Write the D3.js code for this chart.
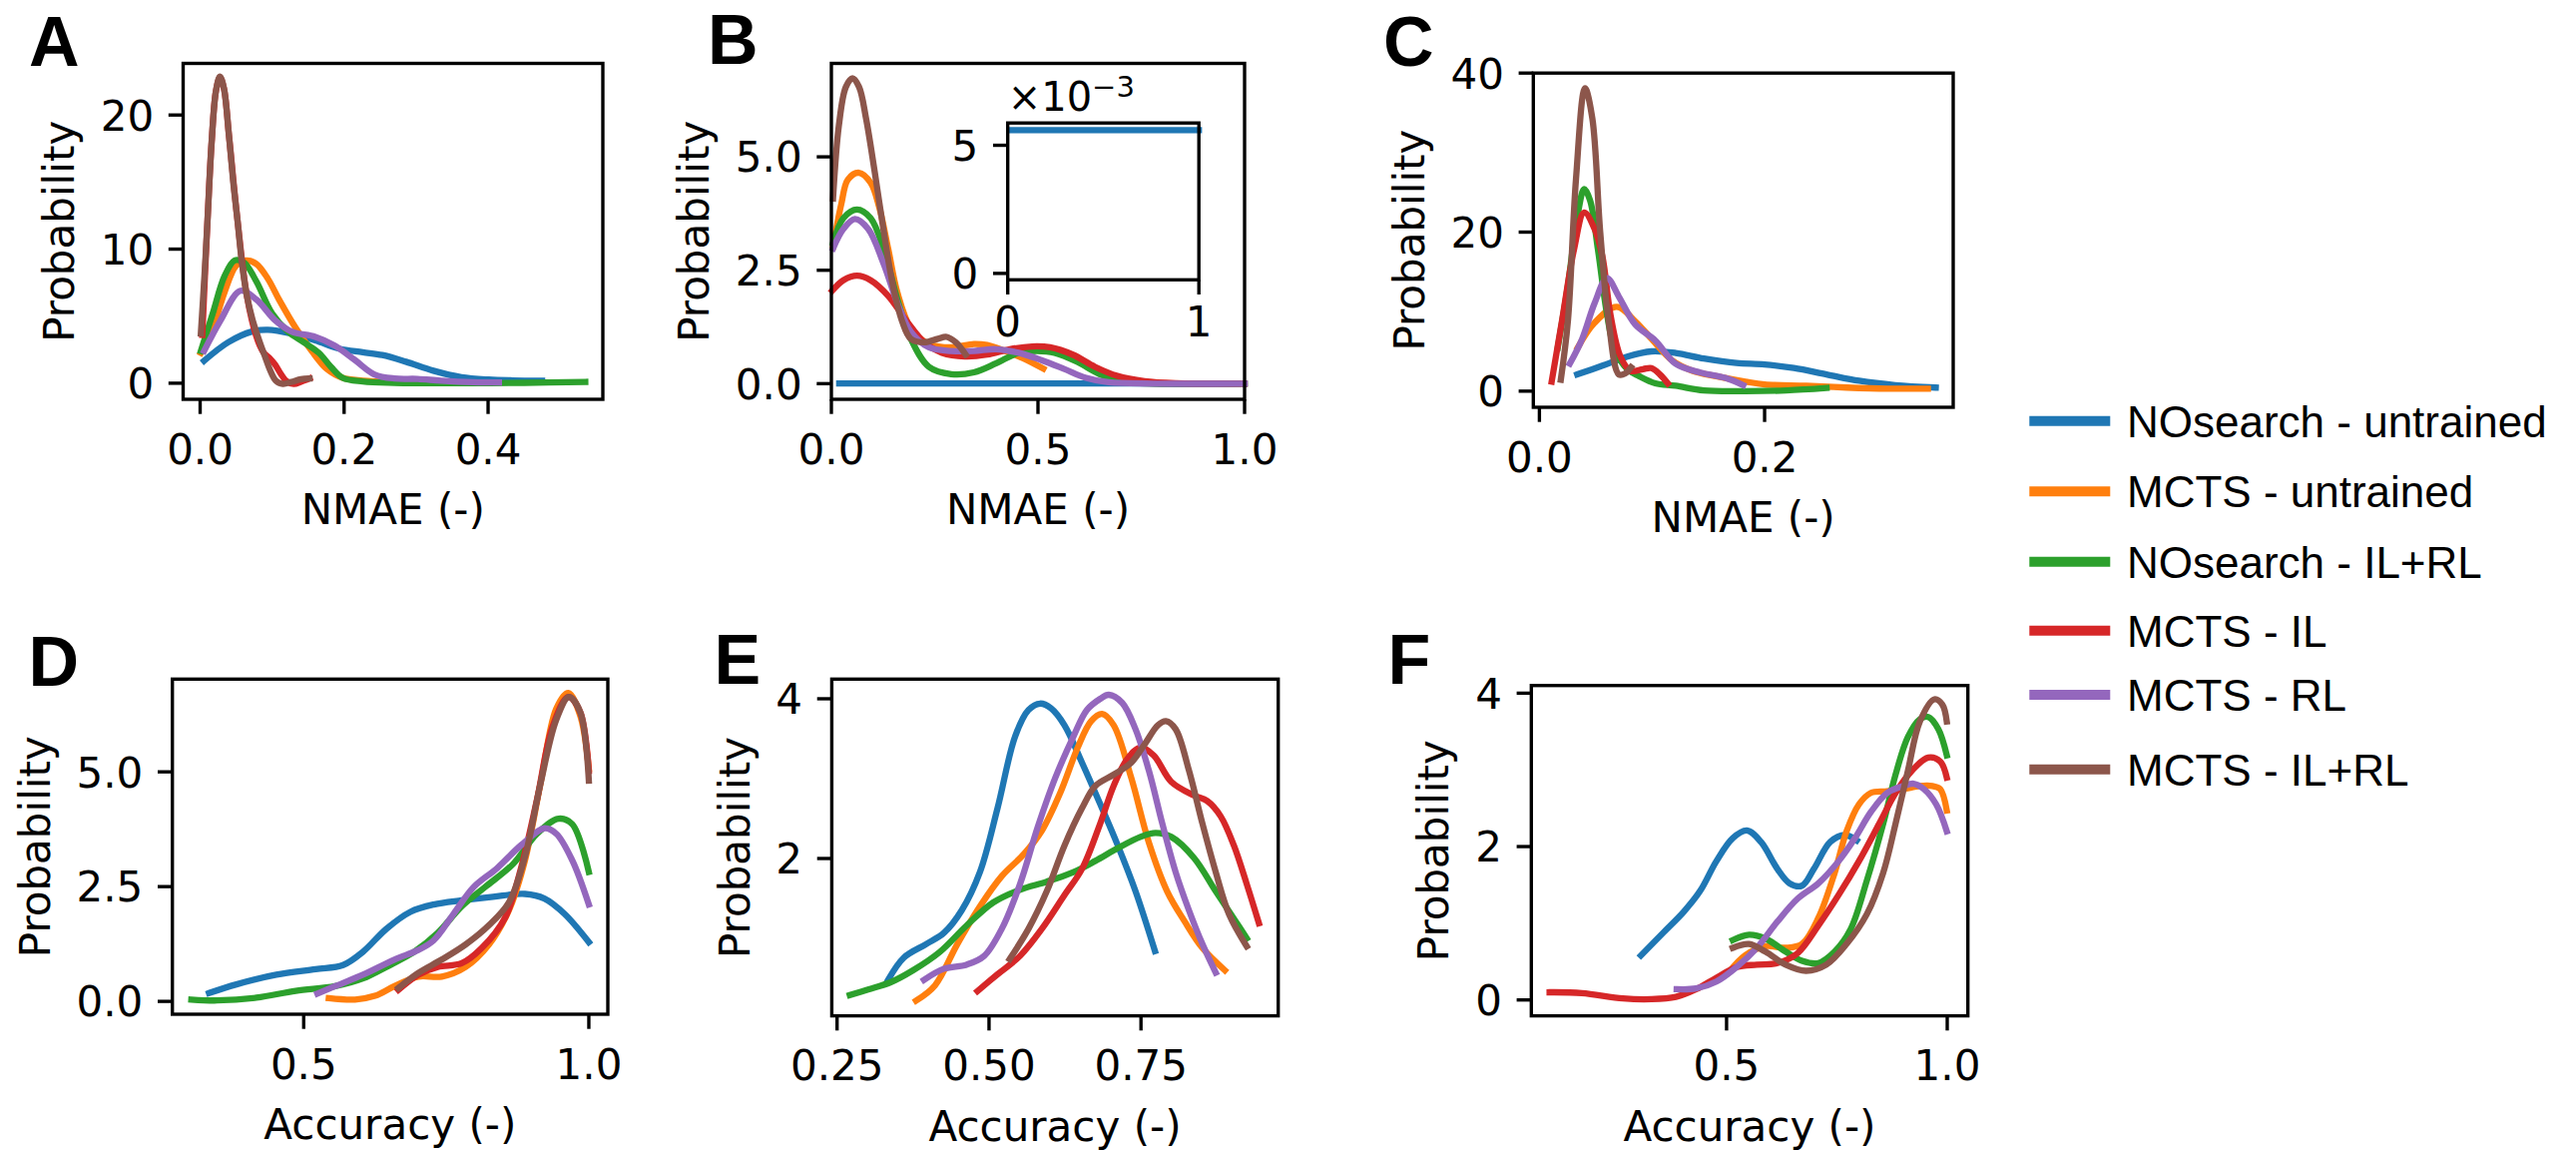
<!DOCTYPE html>
<html>
<head>
<meta charset="utf-8">
<script src="https://cdn.jsdelivr.net/npm/d3@7"></script>
<style>
  html, body { margin: 0; padding: 0; background: #fff; }
  svg { display: block; }
</style>
</head>
<body>
<svg id="fig" width="2581" height="1153"></svg>
<script>
// ---------------------------------------------------------------
// Series (same order and colours in every panel)
// ---------------------------------------------------------------
const seriesNames = [
  "NOsearch - untrained",
  "MCTS - untrained",
  "NOsearch - IL+RL",
  "MCTS - IL",
  "MCTS - RL",
  "MCTS - IL+RL"
];
const seriesColors = ["#1f77b4", "#ff7f0e", "#2ca02c", "#d62728", "#9467bd", "#8c564b"];

const panelLetters = ["A", "B", "C", "D", "E", "F"];
const xLabelNMAE = "NMAE (-)";
const xLabelAcc = "Accuracy (-)";
const yLabelText = "Probability";

// Density estimates, [value, probability] pairs, one list per series
const nmaeA = [
  [[0.0055,1.67],[0.039,3.05],[0.072,3.85],[0.094,3.98],[0.127,3.7],[0.16,3.2],[0.193,2.58],[0.226,2.31],[0.253,2.1],[0.286,1.6],[0.324,0.93],[0.363,0.45],[0.401,0.27],[0.434,0.21],[0.475,0.19]],
  [[0.001,2.26],[0.0175,4.1],[0.034,6.8],[0.05,8.76],[0.064,9.16],[0.078,8.9],[0.094,7.8],[0.11,6.2],[0.133,4.1],[0.155,2.4],[0.176,1.06],[0.198,0.4],[0.226,0.19],[0.27,0.08],[0.29,0.06]],
  [[0.001,2.4],[0.0175,5.2],[0.034,8.0],[0.048,9.16],[0.061,9.0],[0.078,7.6],[0.1,5.2],[0.122,3.85],[0.144,3.05],[0.165,2.26],[0.182,1.2],[0.198,0.4],[0.226,0.13],[0.27,0.03],[0.35,0.0],[0.45,0.03],[0.535,0.1]],
  [[0.003,3.6],[0.0103,12.2],[0.016,18],[0.022,21.8],[0.0275,22.8],[0.033,22],[0.04,18.5],[0.0518,12.2],[0.065,6.5],[0.078,3.5],[0.088,2.3],[0.096,1.9],[0.104,1.4],[0.112,0.7],[0.12,0.15],[0.13,-0.05],[0.14,0.1],[0.152,0.35]],
  [[0.0055,2.4],[0.028,4.65],[0.056,6.9],[0.078,6.24],[0.105,4.65],[0.127,3.85],[0.16,3.45],[0.187,2.8],[0.215,1.73],[0.242,0.66],[0.27,0.35],[0.302,0.32],[0.335,0.19],[0.379,0.08],[0.415,0.05]],
  [[0.001,3.7],[0.006,8],[0.0103,12.2],[0.016,18],[0.022,21.8],[0.0275,22.87],[0.033,22],[0.04,18.5],[0.046,15],[0.0518,12.2],[0.058,9.0],[0.065,6.5],[0.073,4.7],[0.082,3.2],[0.09,2.0],[0.097,1.0],[0.105,0.2],[0.115,-0.05],[0.127,0.1],[0.14,0.3],[0.152,0.35]]
];

const nmaeB = [
  [[0.019,0.00559],[0.25,0.00559],[0.5,0.00559],[0.75,0.00559],[1.0,0.00559]],
  [[0.004,3.02],[0.024,3.96],[0.04,4.5],[0.067,4.65],[0.095,4.43],[0.116,3.88],[0.138,2.95],[0.16,2.0],[0.192,1.23],[0.236,0.875],[0.29,0.8],[0.345,0.875],[0.377,0.85],[0.42,0.72],[0.464,0.56],[0.513,0.33]],
  [[0.004,3.1],[0.029,3.65],[0.062,3.84],[0.095,3.65],[0.127,2.95],[0.16,1.85],[0.192,0.99],[0.236,0.37],[0.29,0.21],[0.345,0.25],[0.399,0.45],[0.453,0.68],[0.497,0.72],[0.54,0.68],[0.595,0.48],[0.649,0.21],[0.703,0.055],[0.78,0.0],[1.0,0.0]],
  [[0.002,2.05],[0.029,2.28],[0.062,2.38],[0.095,2.28],[0.138,1.93],[0.182,1.38],[0.225,0.91],[0.268,0.68],[0.323,0.6],[0.377,0.64],[0.432,0.76],[0.486,0.82],[0.529,0.8],[0.584,0.64],[0.638,0.37],[0.692,0.17],[0.758,0.055],[0.834,0.01],[1.0,0.0]],
  [[0.004,2.98],[0.029,3.41],[0.057,3.63],[0.089,3.41],[0.127,2.63],[0.16,1.77],[0.192,1.15],[0.236,0.8],[0.29,0.72],[0.345,0.72],[0.399,0.76],[0.453,0.68],[0.508,0.52],[0.562,0.33],[0.616,0.13],[0.671,0.03],[0.78,0.0],[1.0,0.0]],
  [[0.004,4.08],[0.018,5.68],[0.035,6.54],[0.051,6.73],[0.067,6.54],[0.084,5.84],[0.105,4.66],[0.127,3.34],[0.149,2.16],[0.171,1.38],[0.192,0.99],[0.225,0.91],[0.258,0.99],[0.279,1.03],[0.301,0.91],[0.325,0.64]]
];

const nmaeC = [
  [[0.0336,2.1],[0.056,3.2],[0.078,4.34],[0.0995,5.0],[0.121,4.8],[0.146,4.1],[0.175,3.53],[0.2,3.36],[0.226,2.9],[0.255,2.1],[0.284,1.3],[0.316,0.76],[0.352,0.45]],
  [[0.034,5.46],[0.049,8.6],[0.0687,10.6],[0.085,8.8],[0.0995,6.58],[0.1175,3.9],[0.136,2.55],[0.157,1.88],[0.183,1.2],[0.2,0.85],[0.237,0.67],[0.273,0.45],[0.309,0.31],[0.345,0.31]],
  [[0.0163,5.46],[0.0253,13.3],[0.034,22.2],[0.0398,25.4],[0.045,24],[0.052,17.8],[0.06,9.7],[0.067,5.2],[0.078,2.77],[0.0886,1.88],[0.103,0.98],[0.121,0.67],[0.146,0.09],[0.183,0.0],[0.219,0.09],[0.255,0.4]],
  [[0.0109,1.2],[0.02,8.8],[0.0307,17.8],[0.0398,22.46],[0.049,20.4],[0.056,16.9],[0.063,9.7],[0.072,4.34],[0.081,2.55],[0.092,2.77],[0.0995,2.9],[0.107,2.1],[0.114,0.98]],
  [[0.027,3.45],[0.038,6.58],[0.049,11.05],[0.06,14.2],[0.0705,11.9],[0.085,8.4],[0.103,6.35],[0.121,3.45],[0.143,2.33],[0.165,1.66],[0.181,0.76]],
  [[0.019,1.43],[0.0253,8.8],[0.0325,26.7],[0.0405,38.1],[0.047,34.3],[0.054,20],[0.0615,8.8],[0.0705,2.1],[0.076,2.2],[0.0814,3.0]]
];

const accD = [
  [[0.334,0.18],[0.382,0.37],[0.452,0.58],[0.521,0.7],[0.569,0.79],[0.604,1.08],[0.645,1.58],[0.687,1.95],[0.728,2.11],[0.777,2.2],[0.832,2.28],[0.888,2.34],[0.922,2.24],[0.957,1.91],[1.0,1.29]],
  [[0.544,0.07],[0.59,0.04],[0.625,0.12],[0.659,0.33],[0.701,0.54],[0.742,0.54],[0.784,0.75],[0.825,1.24],[0.86,1.99],[0.888,3.07],[0.915,4.73],[0.943,6.38],[0.964,6.72],[0.985,6.22],[1.0,5.06]],
  [[0.303,0.04],[0.348,0.02],[0.417,0.08],[0.486,0.23],[0.555,0.33],[0.604,0.5],[0.645,0.75],[0.694,1.08],[0.735,1.49],[0.777,2.07],[0.818,2.49],[0.867,2.99],[0.909,3.65],[0.947,3.98],[0.971,3.86],[1.0,2.82]],
  [[0.666,0.25],[0.701,0.58],[0.735,0.75],[0.777,0.83],[0.812,1.16],[0.853,1.82],[0.881,2.9],[0.909,4.39],[0.936,5.97],[0.964,6.63],[0.985,6.3],[1.0,5.02]],
  [[0.524,0.17],[0.555,0.33],[0.604,0.58],[0.659,0.91],[0.701,1.12],[0.728,1.33],[0.763,1.91],[0.798,2.49],[0.839,2.9],[0.881,3.4],[0.922,3.77],[0.943,3.65],[0.971,3.07],[1.0,2.11]],
  [[0.666,0.29],[0.701,0.62],[0.742,0.91],[0.784,1.24],[0.825,1.66],[0.86,2.16],[0.888,3.15],[0.915,4.73],[0.943,6.14],[0.965,6.63],[0.985,6.3],[1.0,4.81]]
];

const accE = [
  [[0.334,0.48],[0.36,0.76],[0.397,0.93],[0.426,1.07],[0.455,1.35],[0.485,1.83],[0.514,2.63],[0.543,3.53],[0.565,3.86],[0.584,3.94],[0.602,3.88],[0.624,3.67],[0.653,3.2],[0.683,2.68],[0.712,2.16],[0.741,1.59],[0.773,0.84]],
  [[0.38,0.22],[0.411,0.41],[0.448,0.93],[0.485,1.4],[0.521,1.78],[0.558,2.06],[0.587,2.35],[0.617,2.82],[0.646,3.39],[0.668,3.72],[0.686,3.81],[0.705,3.67],[0.734,3.01],[0.763,2.2],[0.793,1.59],[0.822,1.21],[0.851,0.88],[0.888,0.6]],
  [[0.271,0.29],[0.301,0.36],[0.338,0.45],[0.375,0.6],[0.419,0.83],[0.463,1.16],[0.507,1.45],[0.551,1.61],[0.595,1.71],[0.639,1.83],[0.675,1.97],[0.712,2.13],[0.749,2.27],[0.774,2.32],[0.8,2.27],[0.837,2.01],[0.873,1.59],[0.906,1.21],[0.924,1.0]],
  [[0.481,0.34],[0.514,0.55],[0.551,0.78],[0.587,1.12],[0.624,1.54],[0.653,1.87],[0.683,2.44],[0.705,2.91],[0.727,3.24],[0.749,3.39],[0.771,3.29],[0.8,2.96],[0.837,2.79],[0.859,2.72],[0.881,2.53],[0.903,2.16],[0.924,1.68],[0.944,1.19]],
  [[0.393,0.48],[0.426,0.62],[0.463,0.67],[0.492,0.78],[0.521,1.12],[0.551,1.68],[0.58,2.39],[0.609,3.01],[0.639,3.53],[0.661,3.86],[0.683,4.0],[0.697,4.05],[0.719,3.95],[0.741,3.62],[0.763,3.1],[0.785,2.44],[0.807,1.83],[0.829,1.35],[0.851,0.93],[0.873,0.57]],
  [[0.534,0.74],[0.565,1.12],[0.595,1.59],[0.624,2.16],[0.653,2.63],[0.675,2.91],[0.705,3.05],[0.734,3.2],[0.756,3.43],[0.778,3.67],[0.791,3.72],[0.807,3.62],[0.829,3.1],[0.851,2.44],[0.873,1.83],[0.895,1.3],[0.924,0.9]]
];

const accF = [
  [[0.306,0.58],[0.357,0.88],[0.403,1.15],[0.44,1.42],[0.477,1.81],[0.514,2.11],[0.546,2.21],[0.578,2.06],[0.615,1.71],[0.643,1.52],[0.671,1.49],[0.698,1.71],[0.735,2.06],[0.768,2.15],[0.795,2.08]],
  [[0.505,0.36],[0.542,0.58],[0.588,0.7],[0.634,0.68],[0.671,0.73],[0.708,1.07],[0.745,1.66],[0.772,2.2],[0.8,2.55],[0.827,2.7],[0.864,2.72],[0.901,2.75],[0.938,2.79],[0.966,2.79],[0.984,2.75],[0.999,2.47]],
  [[0.514,0.78],[0.551,0.85],[0.588,0.8],[0.634,0.63],[0.671,0.51],[0.708,0.48],[0.745,0.63],[0.781,0.92],[0.818,1.56],[0.855,2.3],[0.883,2.94],[0.911,3.43],[0.938,3.66],[0.957,3.69],[0.98,3.53],[0.999,3.19]],
  [[0.099,0.1],[0.172,0.09],[0.265,0.02],[0.329,0.01],[0.385,0.04],[0.431,0.14],[0.477,0.29],[0.523,0.43],[0.569,0.46],[0.615,0.48],[0.661,0.61],[0.708,0.97],[0.754,1.37],[0.8,1.81],[0.846,2.3],[0.883,2.7],[0.92,2.99],[0.957,3.16],[0.984,3.11],[0.999,2.9]],
  [[0.387,0.14],[0.431,0.15],[0.477,0.24],[0.523,0.43],[0.569,0.68],[0.615,1.02],[0.661,1.32],[0.708,1.52],[0.754,1.81],[0.791,2.11],[0.827,2.45],[0.864,2.7],[0.901,2.79],[0.924,2.82],[0.947,2.75],[0.975,2.55],[0.999,2.2]],
  [[0.514,0.68],[0.551,0.73],[0.588,0.63],[0.634,0.46],[0.68,0.38],[0.726,0.46],[0.772,0.73],[0.818,1.12],[0.855,1.66],[0.883,2.3],[0.911,2.99],[0.938,3.63],[0.971,3.92],[0.989,3.85],[0.999,3.63]]
];

// Tick values
const xTicksA = [0, 0.2, 0.4],   yTicksA = [0, 10, 20];
const xTicksB = [0, 0.5, 1.0],   yTicksB = [0, 2.5, 5.0];
const xTicksC = [0, 0.2],        yTicksC = [0, 20, 40];
const xTicksD = [0.5, 1.0],      yTicksD = [0, 2.5, 5.0];
const xTicksE = [0.25, 0.5, 0.75], yTicksE = [2, 4];
const xTicksF = [0.5, 1.0],      yTicksF = [0, 2, 4];
const xTicksInset = [0, 1],      yTicksInset = [0, 5];
const insetExponent = -3;

// ---------------------------------------------------------------
// Figure geometry and style (matplotlib-like, 4.2 px per point)
// ---------------------------------------------------------------
const W = 2581, H = 1153;
const PT = 4.2;
const FONT = "DejaVu Sans, Verdana, sans-serif";
const FS = 10 * PT;               // 42 px
const LINE_W = 1.5 * PT;          // curve width
const SPINE_W = 0.8 * PT;
const TICK_LEN = 3.5 * PT;
const TICK_PAD = 3.5 * PT;
const LABEL_PAD = 4 * PT;

const svg = d3.select("#fig");
svg.append("rect").attr("width", W).attr("height", H).attr("fill", "#fff");

const panels = [
  { data: nmaeA, box: {l: 183.5, r: 604,   t: 63.5,  b: 400},    xDomain: [-0.0236, 0.5594], yDomain: [-1.2, 23.85],
    xTicks: xTicksA, yTicks: yTicksA, xFmt: ".1f", yFmt: "d",   xLabel: xLabelNMAE, letter: [29, 66] },
  { data: nmaeB, box: {l: 833,   r: 1247,  t: 63.5,  b: 400},    xDomain: [0, 1],            yDomain: [-0.345, 7.06],
    xTicks: xTicksB, yTicks: yTicksB, xFmt: ".1f", yFmt: ".1f", xLabel: xLabelNMAE, letter: [709, 64.3], inset: true },
  { data: nmaeC, box: {l: 1536.3, r: 1957, t: 73.2,  b: 408},    xDomain: [-0.0054, 0.3675], yDomain: [-2.03, 40],
    xTicks: xTicksC, yTicks: yTicksC, xFmt: ".1f", yFmt: "d",   xLabel: xLabelNMAE, letter: [1386, 66] },
  { data: accD,  box: {l: 172.7, r: 609,   t: 680.3, b: 1016},   xDomain: [0.2697, 1.0333],  yDomain: [-0.28, 7.02],
    xTicks: xTicksD, yTicks: yTicksD, xFmt: ".1f", yFmt: ".1f", xLabel: xLabelAcc,  letter: [28.5, 686.7] },
  { data: accE,  box: {l: 833.4, r: 1280.7, t: 680.3, b: 1017.6}, xDomain: [0.2413, 0.9758], yDomain: [0.03, 4.246],
    xTicks: xTicksE, yTicks: yTicksE, xFmt: ".2f", yFmt: "d",   xLabel: xLabelAcc,  letter: [715.5, 684.8] },
  { data: accF,  box: {l: 1534.3, r: 1971.7, t: 686.7, b: 1017.6}, xDomain: [0.0576, 1.0468], yDomain: [-0.207, 4.1],
    xTicks: xTicksF, yTicks: yTicksF, xFmt: ".1f", yFmt: "d",   xLabel: xLabelAcc,  letter: [1390.5, 684.8] }
];

function styleAxis(ax) {
  ax.attr("font-family", FONT).attr("font-size", FS).attr("color", "#000");
  ax.select(".domain").remove();
  ax.selectAll(".tick line").attr("stroke-width", SPINE_W);
}

function drawAxes(g, x, y, box, xTicks, yTicks, xFmt, yFmt) {
  const xa = g.append("g")
    .attr("transform", `translate(0,${box.b})`)
    .call(d3.axisBottom(x).tickValues(xTicks).tickFormat(d3.format(xFmt))
      .tickSize(TICK_LEN).tickSizeOuter(0).offset(0));
  styleAxis(xa);
  xa.selectAll(".tick text").attr("y", TICK_LEN + TICK_PAD + 0.84 * FS).attr("dy", null);

  const ya = g.append("g")
    .attr("transform", `translate(${box.l},0)`)
    .call(d3.axisLeft(y).tickValues(yTicks).tickFormat(d3.format(yFmt))
      .tickSize(TICK_LEN).tickSizeOuter(0).offset(0));
  styleAxis(ya);
  ya.selectAll(".tick text").attr("x", -(TICK_LEN + TICK_PAD)).attr("y", 0.3645 * FS).attr("dy", null);

  g.append("rect")
    .attr("x", box.l).attr("y", box.t)
    .attr("width", box.r - box.l).attr("height", box.b - box.t)
    .attr("fill", "none").attr("stroke", "#000").attr("stroke-width", SPINE_W);
  return ya;
}

function drawCurves(g, x, y, data) {
  const line = d3.line().x(d => x(d[0])).y(d => y(d[1])).curve(d3.curveCatmullRom.alpha(0.5));
  data.forEach((pts, i) => {
    g.append("path")
      .attr("d", line(pts))
      .attr("fill", "none")
      .attr("stroke", seriesColors[i])
      .attr("stroke-width", LINE_W)
      .attr("stroke-linecap", "square")
      .attr("stroke-linejoin", "round");
  });
}

panels.forEach((p, idx) => {
  const g = svg.append("g");
  const x = d3.scaleLinear().domain(p.xDomain).range([p.box.l, p.box.r]);
  const y = d3.scaleLinear().domain(p.yDomain).range([p.box.b, p.box.t]);

  drawCurves(g, x, y, p.data);
  const ya = drawAxes(g, x, y, p.box, p.xTicks, p.yTicks, p.xFmt, p.yFmt);

  // axis titles
  g.append("text")
    .attr("x", (p.box.l + p.box.r) / 2)
    .attr("y", p.box.b + 125)
    .attr("text-anchor", "middle")
    .attr("font-family", FONT).attr("font-size", FS)
    .text(p.xLabel);

  const bb = ya.node().getBBox();
  const lx = p.box.l + bb.x - LABEL_PAD - 0.236 * FS;
  g.append("text")
    .attr("transform", `translate(${lx},${(p.box.t + p.box.b) / 2}) rotate(-90)`)
    .attr("text-anchor", "middle")
    .attr("font-family", FONT).attr("font-size", FS)
    .text(yLabelText);

  // panel letter
  svg.append("text")
    .attr("x", p.letter[0]).attr("y", p.letter[1])
    .attr("font-family", "Liberation Sans, Arial, sans-serif")
    .attr("font-weight", "bold").attr("font-size", 70)
    .text(panelLetters[idx]);

  if (p.inset) drawInset(p);
});

// Inset inside panel B: the untrained no-search density on its own scale
function drawInset(p) {
  const box = {l: 1009.7, r: 1201.2, t: 123.2, b: 280.3};
  const scale = Math.pow(10, insetExponent);
  const g = svg.append("g");
  g.append("rect").attr("x", box.l).attr("y", box.t)
    .attr("width", box.r - box.l).attr("height", box.b - box.t).attr("fill", "#fff");
  const x = d3.scaleLinear().domain([0, 1]).range([box.l, box.r]);
  const y = d3.scaleLinear().domain([-0.25, 5.87]).range([box.b, box.t]);
  const scaled = [p.data[0].map(d => [d[0], d[1] / scale])];
  drawCurves(g, x, y, scaled);
  const xa = g.append("g").attr("transform", `translate(0,${box.b})`)
    .call(d3.axisBottom(x).tickValues(xTicksInset).tickFormat(d3.format("d"))
      .tickSize(TICK_LEN).tickSizeOuter(0).offset(0));
  styleAxis(xa);
  xa.selectAll(".tick text").attr("y", 57).attr("dy", null);
  const ya = g.append("g").attr("transform", `translate(${box.l},0)`)
    .call(d3.axisLeft(y).tickValues(yTicksInset).tickFormat(d3.format("d"))
      .tickSize(TICK_LEN).tickSizeOuter(0).offset(0));
  styleAxis(ya);
  ya.selectAll(".tick text").attr("x", -(TICK_LEN + TICK_PAD)).attr("y", 0.3645 * FS).attr("dy", null);
  g.append("rect").attr("x", box.l).attr("y", box.t)
    .attr("width", box.r - box.l).attr("height", box.b - box.t)
    .attr("fill", "none").attr("stroke", "#000").attr("stroke-width", SPINE_W);

  // offset text: ×10^-3
  const t = g.append("text")
    .attr("x", box.l).attr("y", box.t - 12.5)
    .attr("font-family", FONT).attr("font-size", 40);
  t.append("tspan").text("\u00d710");
  t.append("tspan").attr("font-size", 29).attr("dy", -14).text("\u2212" + Math.abs(insetExponent));
}

// ---------------------------------------------------------------
// Legend
// ---------------------------------------------------------------
const legendRowsY = [421.7, 492.3, 562.7, 631.7, 696, 770.7];
const legend = svg.append("g");
seriesNames.forEach((name, i) => {
  const yy = legendRowsY[i];
  legend.append("line")
    .attr("x1", 2033.3).attr("x2", 2114.3).attr("y1", yy).attr("y2", yy)
    .attr("stroke", seriesColors[i]).attr("stroke-width", 10);
  legend.append("text")
    .attr("x", 2131).attr("y", yy + 15.8)
    .attr("font-family", "Liberation Sans, Arial, sans-serif")
    .attr("font-size", 44)
    .text(name);
});
</script>
</body>
</html>
